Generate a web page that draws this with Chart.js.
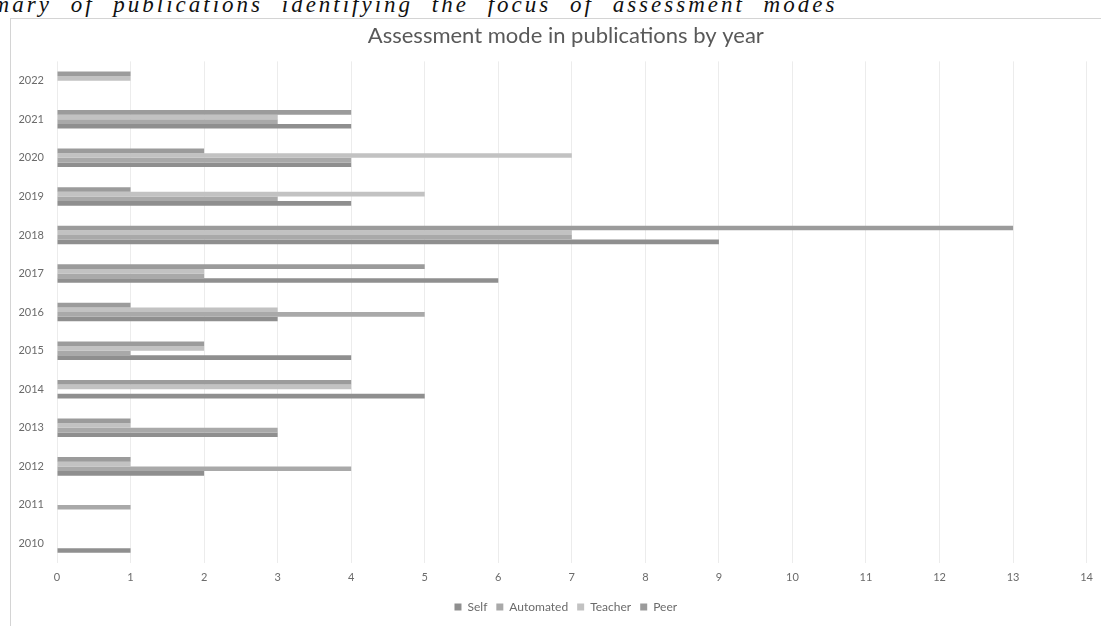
<!DOCTYPE html>
<html>
<head>
<meta charset="utf-8">
<script src="https://cdn.jsdelivr.net/npm/chart.js@4"></script>
<style>
  html, body { margin: 0; padding: 0; background: #fff; overflow: hidden; }
  body { width: 1101px; height: 626px; position: relative; }
  #caption {
    position: absolute; left: -56px; top: -8px; white-space: nowrap;
    font-family: "Liberation Serif", "DejaVu Serif", serif; font-style: italic;
    font-size: 23px; letter-spacing: 3px; word-spacing: 10px; color: #111;
  }
  #frame {
    position: absolute; left: 10px; top: 18px; width: 1090px; height: 607px;
    border: 1px solid #d4d4d4; border-right: none; border-bottom: none; background: #fff;
  }
  #chart { display: block; }
</style>
</head>
<body>
<div id="caption">Summary of publications identifying the focus of assessment modes</div>
<div id="frame"><canvas id="chart" width="1090" height="607"></canvas></div>
<script>
// Publication years, bottom to top
const years = ['2010','2011','2012','2013','2014','2015','2016','2017','2018','2019','2020','2021','2022'];
// Number of publications per assessment mode
const selfCounts      = [1, 0, 2, 3, 5, 4, 3, 6, 9, 4, 4, 4, 0];
const automatedCounts = [0, 1, 4, 3, 0, 1, 5, 2, 7, 3, 4, 3, 0];
const teacherCounts   = [0, 0, 1, 1, 4, 2, 3, 2, 7, 5, 7, 3, 1];
const peerCounts      = [0, 0, 1, 1, 4, 2, 1, 5, 13, 1, 2, 4, 1];
const seriesNames = ['Self', 'Automated', 'Teacher', 'Peer'];
const seriesColors = ['#8f8f8f', '#a9a9a9', '#c2c2c2', '#9b9b9b'];

const textColor = '#6b6b6b';
const fontFamily = 'Lato, "Open Sans", sans-serif';

// Self sits at the bottom of each group, Peer on top: build datasets top-first
const seriesValues = [selfCounts, automatedCounts, teacherCounts, peerCounts];
const datasets = seriesValues.map((vals, i) => ({
  label: seriesNames[i],
  data: vals,
  backgroundColor: seriesColors[i],
  borderWidth: 0,
  categoryPercentage: 0.48,
  barPercentage: 1.0
})).reverse();

// Centre the title and legend over the plot area rather than the whole canvas
const centreOnPlot = {
  id: 'centreOnPlot',
  afterLayout(chart) {
    const area = chart.chartArea;
    const plotMid = (area.left + area.right) / 2;
    [chart.titleBlock, chart.legend].forEach(box => {
      if (!box) return;
      const shift = plotMid - (box.left + box.right) / 2 - 6;
      box.left += shift;
      box.right += shift;
      if (box.legendHitBoxes) box.legendHitBoxes.forEach(h => { h.left += shift; });
    });
  }
};

new Chart(document.getElementById('chart'), {
  type: 'bar',
  data: { labels: years, datasets },
  plugins: [centreOnPlot],
  options: {
    indexAxis: 'y',
    responsive: false,
    animation: false,
    layout: { padding: { left: 0, right: 12, top: 0, bottom: 3 } },
    plugins: {
      title: {
        display: true,
        text: 'Assessment mode in publications by year',
        color: '#595959',
        font: { family: fontFamily, size: 22, weight: 'normal' },
        padding: { top: 4, bottom: 12 }
      },
      legend: {
        position: 'bottom',
        reverse: true,
        labels: {
          color: textColor,
          font: { family: fontFamily, size: 12 },
          boxWidth: 7, boxHeight: 7, padding: 9
        }
      },
      tooltip: { enabled: false }
    },
    scales: {
      x: {
        min: 0, max: 14,
        ticks: { stepSize: 1, color: textColor, font: { family: fontFamily, size: 11 }, padding: 8 },
        grid: { color: '#ececec', drawTicks: false },
        border: { display: false }
      },
      y: {
        reverse: true,
        ticks: { color: textColor, font: { family: fontFamily, size: 11 }, padding: 5 },
        grid: { display: false },
        border: { display: false },
        afterFit(scale) { scale.width = 46; }
      }
    }
  }
});
</script>
</body>
</html>
